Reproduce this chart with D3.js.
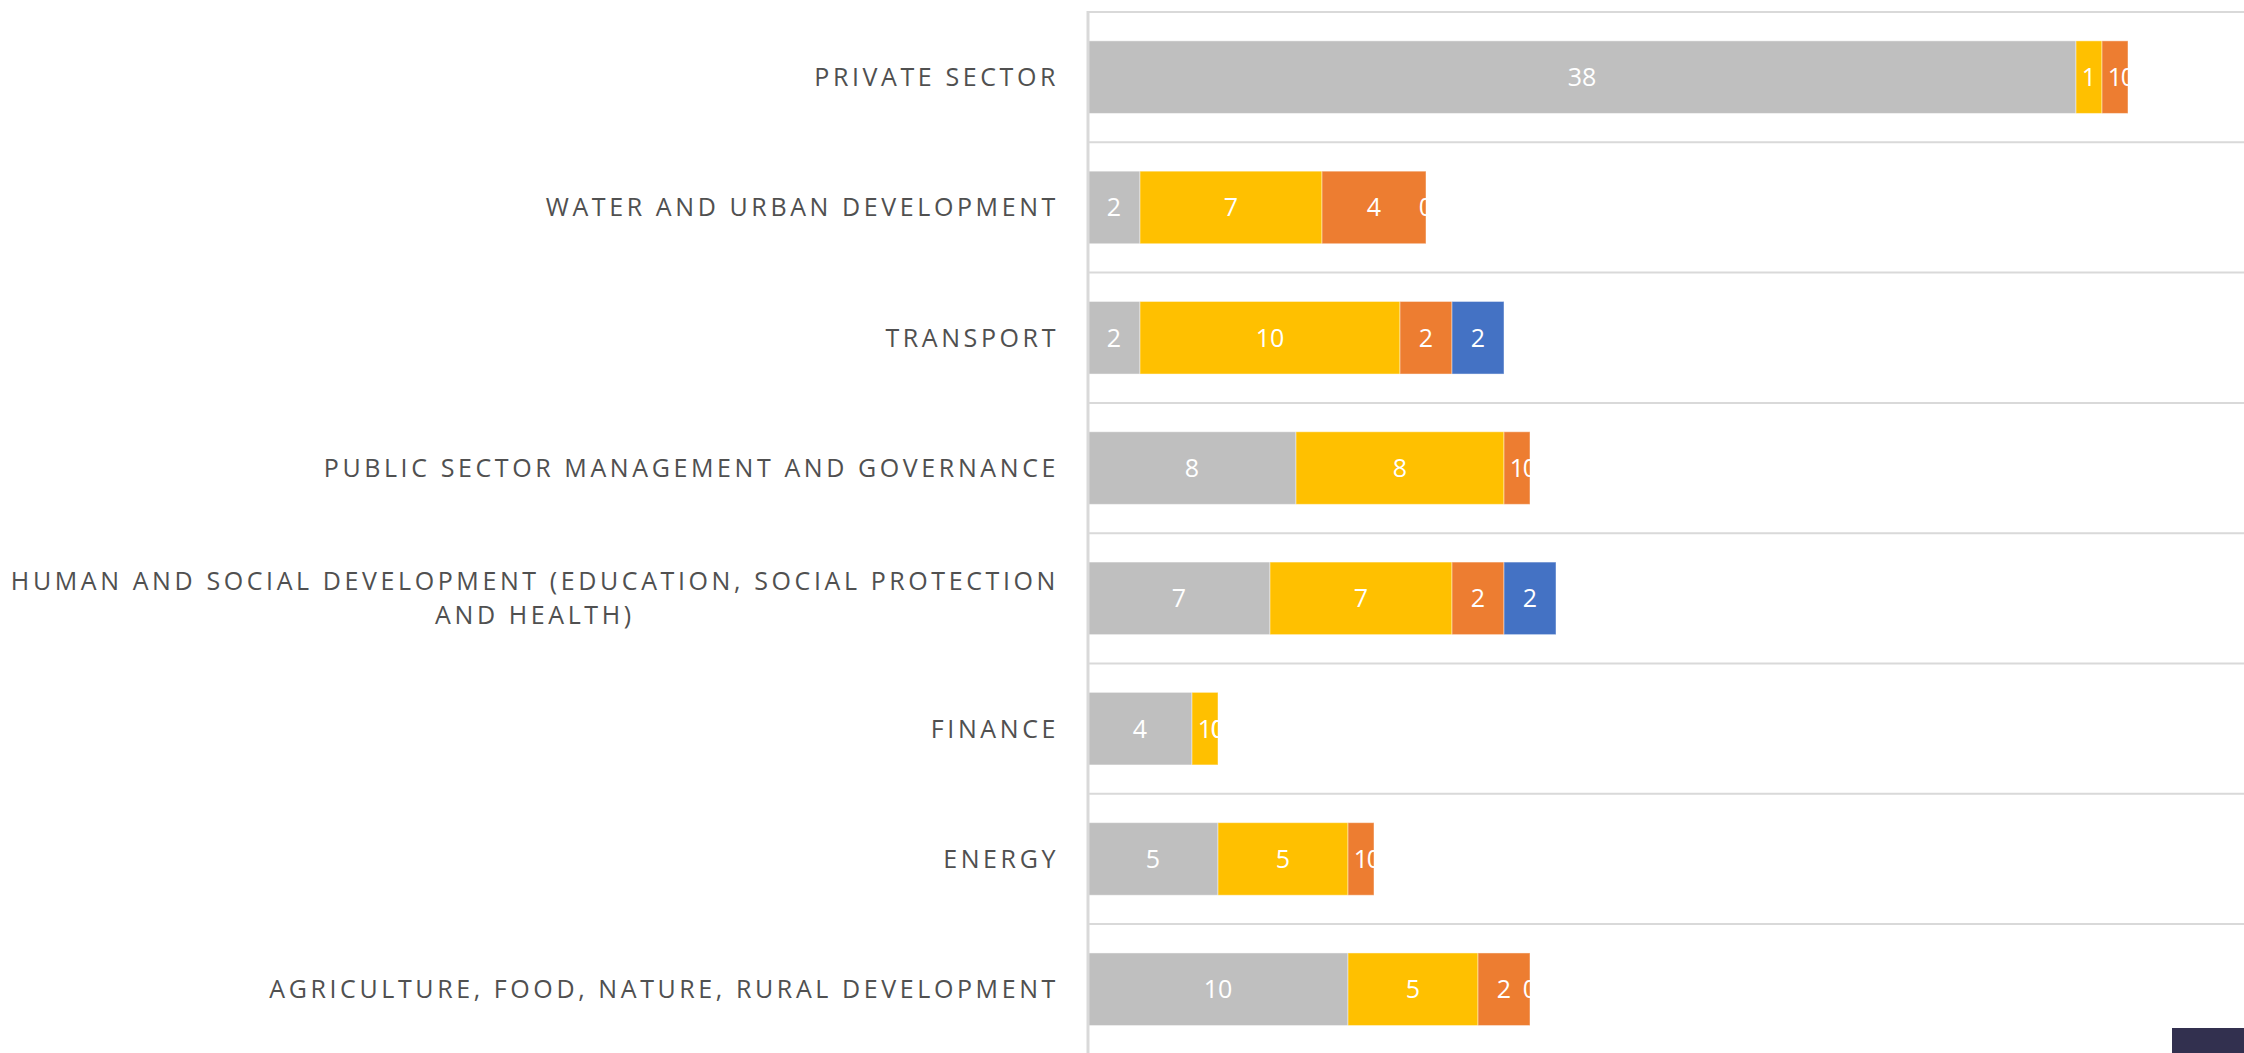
<!DOCTYPE html>
<html>
<head>
<meta charset="utf-8">
<script src="https://cdn.jsdelivr.net/npm/d3@7"></script>
<style>
  html, body { margin: 0; padding: 0; background: #ffffff; overflow: hidden; }
  svg { display: block; }
</style>
</head>
<body>
<svg id="chart" width="2244" height="1053"></svg>
<script>
const categories = [
  "PRIVATE SECTOR",
  "WATER AND URBAN DEVELOPMENT",
  "TRANSPORT",
  "PUBLIC SECTOR MANAGEMENT AND GOVERNANCE",
  "HUMAN AND SOCIAL DEVELOPMENT (EDUCATION, SOCIAL PROTECTION AND HEALTH)",
  "FINANCE",
  "ENERGY",
  "AGRICULTURE, FOOD, NATURE, RURAL DEVELOPMENT"
];
const seriesNames = ["Series 1", "Series 2", "Series 3", "Series 4"];
const series1 = [38, 2, 2, 8, 7, 4, 5, 10];
const series2 = [1, 7, 10, 8, 7, 1, 5, 5];
const series3 = [1, 4, 2, 1, 2, 0, 1, 2];
const series4 = [0, 0, 2, 0, 2, 0, 0, 0];
const seriesColors = ["#bfbfbf", "#ffc000", "#ed7d31", "#4472c4"];

const allSeries = [series1, series2, series3, series4];
const table = categories.map((c, i) => {
  const row = { category: c };
  seriesNames.forEach((s, j) => row[s] = allSeries[j][i]);
  return row;
});

const svg = d3.select("#chart");
const plotLeft = 1088, plotTop = 12;
const step = 130.3;
const plotBottom = plotTop + step * categories.length;

const x = d3.scaleLinear().domain([0, 45]).range([plotLeft, plotLeft + 45 * 26]);
const y = d3.scaleBand().domain(categories).range([plotTop, plotBottom])
  .paddingInner(0.443).paddingOuter(0.2215);

// horizontal gridlines at category boundaries
const gridYs = d3.range(categories.length + 1).map(i => plotTop + i * y.step());
svg.append("g").selectAll("line").data(gridYs).join("line")
  .attr("x1", plotLeft).attr("x2", 2244)
  .attr("y1", d => d).attr("y2", d => d)
  .attr("stroke", "#d9d9d9").attr("stroke-width", 2);

// stacked bars
const stacked = d3.stack().keys(seriesNames)(table);
const layers = svg.append("g").selectAll("g").data(stacked).join("g")
  .attr("fill", (d, i) => seriesColors[i]);
layers.selectAll("rect").data(d => d).join("rect")
  .attr("x", d => x(d[0]))
  .attr("y", d => y(d.data.category))
  .attr("width", d => x(d[1]) - x(d[0]))
  .attr("height", y.bandwidth())
  .attr("stroke", "rgba(255,255,255,0.45)")
  .attr("stroke-width", 1);

// value labels (white)
layers.selectAll("text").data(d => d.map(v => ({ v, key: d.key }))).join("text")
  .attr("x", d => (x(d.v[0]) + x(d.v[1])) / 2)
  .attr("y", d => y(d.v.data.category) + y.bandwidth() / 2)
  .attr("dy", "0.36em")
  .attr("text-anchor", "middle")
  .attr("fill", "#ffffff")
  .attr("font-family", "'Open Sans', sans-serif")
  .attr("font-size", 25)
  .text(d => d.v.data[d.key]);

// vertical axis line
svg.append("line")
  .attr("x1", plotLeft).attr("x2", plotLeft)
  .attr("y1", plotTop - 1).attr("y2", 1053)
  .attr("stroke", "#d9d9d9").attr("stroke-width", 3);

// category labels
const labelRight = 1059;
const maxLabelWidth = 1070;
const lineHeight = 34;
const labelG = svg.append("g");
categories.forEach(cat => {
  const t = labelG.append("text")
    .attr("font-family", "'Open Sans', sans-serif")
    .attr("font-size", 25)
    .attr("letter-spacing", "3.6px")
    .attr("fill", "#505050");
  const words = cat.split(" ");
  const lines = [];
  let cur = [];
  const probe = t.append("tspan");
  words.forEach(w => {
    const trial = cur.concat([w]).join(" ");
    probe.text(trial);
    if (probe.node().getComputedTextLength() > maxLabelWidth && cur.length) {
      lines.push(cur.join(" "));
      cur = [w];
    } else {
      cur.push(w);
    }
  });
  lines.push(cur.join(" "));
  probe.remove();
  const cy = y(cat) + y.bandwidth() / 2;
  const firstY = cy - (lines.length - 1) * lineHeight / 2;
  const widths = lines.map(l => {
    const p = t.append("tspan").text(l);
    const w = p.node().getComputedTextLength();
    p.remove();
    return w;
  });
  const blockW = d3.max(widths);
  const blockCenter = labelRight - blockW / 2;
  lines.forEach((l, i) => {
    t.append("tspan")
      .attr("x", lines.length > 1 ? blockCenter : labelRight)
      .attr("y", firstY + i * lineHeight)
      .attr("dy", "0.36em")
      .attr("text-anchor", lines.length > 1 ? "middle" : "end")
      .text(l);
  });
});

// dark corner block
svg.append("rect")
  .attr("x", 2172).attr("y", 1028).attr("width", 72).attr("height", 25)
  .attr("fill", "#32304f");
</script>
</body>
</html>
